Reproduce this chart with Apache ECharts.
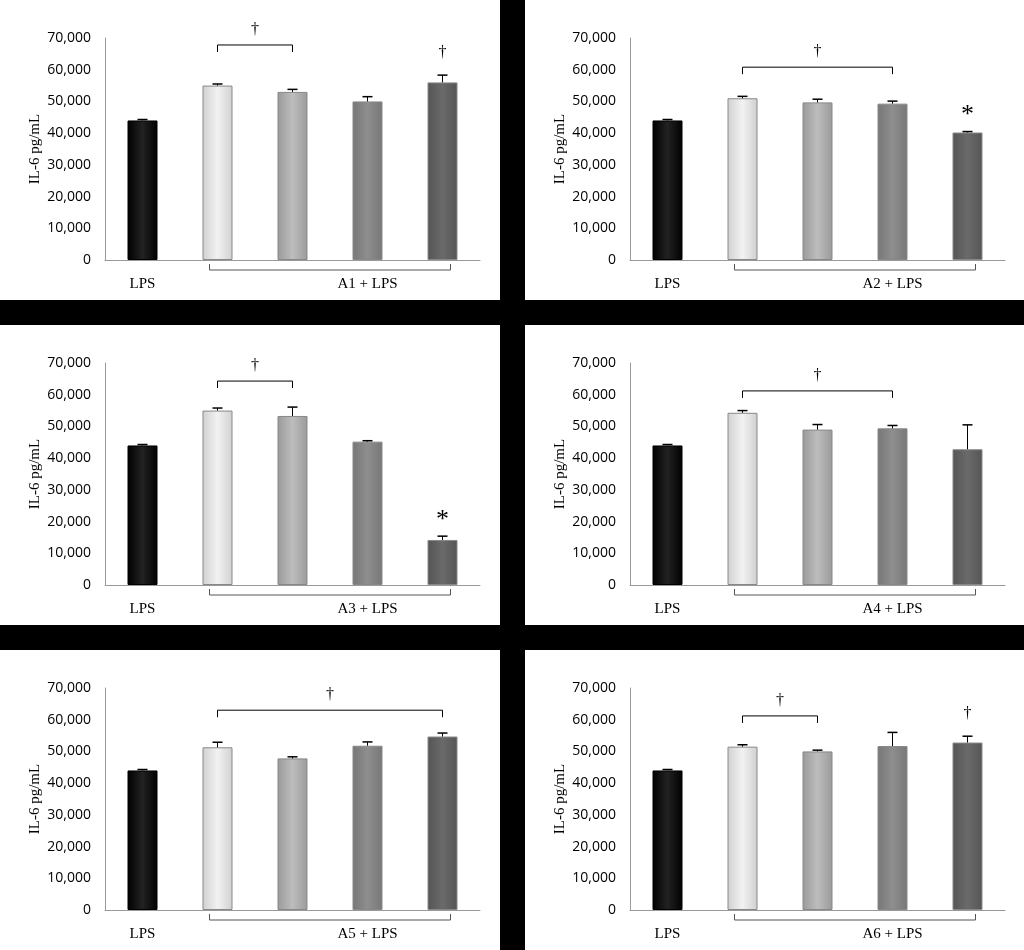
<!DOCTYPE html>
<html>
<head>
<meta charset="UTF-8">
<script src="https://cdn.jsdelivr.net/npm/echarts@6/dist/echarts.min.js"></script>
<style>html,body{margin:0;padding:0;background:#000}#main{width:1024px;height:950px}</style>
</head>
<body>
<div id="main"></div>
<script>
var categories = ['LPS', 'b', 'c', 'd', 'e'];
var groupLabels = ['A1 + LPS', 'A2 + LPS', 'A3 + LPS', 'A4 + LPS', 'A5 + LPS', 'A6 + LPS'];
var yTicks = [0, 10000, 20000, 30000, 40000, 50000, 60000, 70000];
// means per panel
var means1 = [44000, 55000, 53000, 50000, 56000];
var means2 = [44000, 51000, 49700, 49300, 40200];
var means3 = [44000, 55000, 53300, 45200, 14200];
var means4 = [44000, 54300, 49000, 49400, 42800];
var means5 = [44000, 51300, 47800, 51800, 54700];
var means6 = [44000, 51500, 50000, 51700, 52800];
// upper error values
var errs1 = [300, 500, 800, 1500, 2300];
var errs2 = [300, 600, 1000, 800, 300];
var errs3 = [300, 800, 2800, 300, 1200];
var errs4 = [300, 700, 1600, 900, 7700];
var errs5 = [300, 1600, 500, 1200, 1100];
var errs6 = [300, 600, 400, 4300, 2000];
// significance brackets [from, to, value]
var brackets = [[1, 2, 67800], [1, 3, 60800], [1, 2, 64300], [1, 3, 61200], [1, 4, 63000], [1, 2, 61200]];
// extra single markers [index, symbol]
var markers = [[[4, '†']], [[4, '*']], [[4, '*']], [], [], [[4, '†']]];

var allMeans = [means1, means2, means3, means4, means5, means6];
var allErrs = [errs1, errs2, errs3, errs4, errs5, errs6];

var barColors = [
  ['#000', '#222', '#000'],
  ['#d0d0d0', '#f2f2f2', '#d0d0d0'],
  ['#9a9a9a', '#bdbdbd', '#9a9a9a'],
  ['#777', '#8e8e8e', '#777'],
  ['#555', '#6a6a6a', '#555']
];
function grad(c) {
  return new echarts.graphic.LinearGradient(0, 0, 1, 0, [
    {offset: 0, color: c[0]}, {offset: 0.5, color: c[1]}, {offset: 1, color: c[2]}]);
}

var chart = echarts.init(document.getElementById('main'));
var grids = [], xAxes = [], yAxes = [], series = [], graphics = [];

for (var p = 0; p < 6; p++) {
  var col = p % 2, row = Math.floor(p / 2);
  var px = col * 525, py = row * 325;
  graphics.push({type: 'rect', shape: {x: px, y: py, width: col ? 499 : 500, height: 300},
    style: {fill: '#fff'}, z: -10});
  grids.push({left: px + 105, top: py + 38, width: 375, height: 222});
  xAxes.push({type: 'category', gridIndex: p, data: categories,
    axisLine: {lineStyle: {color: '#999'}}, axisTick: {show: false}, axisLabel: {show: false}});
  yAxes.push({type: 'value', gridIndex: p, min: yTicks[0], max: yTicks[yTicks.length - 1], interval: 10000,
    axisLine: {show: true, lineStyle: {color: '#999'}}, axisTick: {show: false}, splitLine: {show: false},
    axisLabel: {color: '#000', fontFamily: 'Open Sans', fontSize: 14, margin: 14},
    name: 'IL-6 pg/mL', nameLocation: 'middle', nameGap: 62, nameRotate: 90,
    nameTextStyle: {fontFamily: 'Liberation Serif', fontSize: 15, color: '#000'}});
  series.push({type: 'bar', xAxisIndex: p, yAxisIndex: p, barWidth: 30,
    data: allMeans[p].map(function (v, i) {
      return {value: v, itemStyle: {color: grad(barColors[i]), borderColor: i ? '#888' : '#000', borderWidth: 1}};
    })});
  series.push({type: 'custom', xAxisIndex: p, yAxisIndex: p, z: 5,
    data: allMeans[p].map(function (v, i) { return [i, v, allErrs[p][i]]; }),
    renderItem: function (params, api) {
      var a = api.coord([api.value(0), api.value(1)]);
      var b = api.coord([api.value(0), api.value(1) + api.value(2)]);
      return {type: 'group', children: [
        {type: 'line', shape: {x1: a[0], y1: a[1], x2: b[0], y2: b[1]}, style: {stroke: '#000', lineWidth: 1}},
        {type: 'line', shape: {x1: b[0] - 5, y1: b[1], x2: b[0] + 5, y2: b[1]}, style: {stroke: '#000', lineWidth: 1.5}}
      ]};
    }});
  (function (p) {
    series.push({type: 'custom', xAxisIndex: p, yAxisIndex: p, z: 6, data: [[0, 0]],
      renderItem: function (params, api) {
        var br = brackets[p];
        var l = api.coord([br[0], br[2]]), r = api.coord([br[1], br[2]]);
        var ch = [
          {type: 'polyline', shape: {points: [[l[0], l[1] + 7], [l[0], l[1]], [r[0], r[1]], [r[0], r[1] + 7]]},
            style: {stroke: '#000', fill: null, lineWidth: 1}},
          {type: 'text', x: (l[0] + r[0]) / 2, y: l[1] - 15,
            style: {text: '†', fontSize: 16, fontFamily: 'Liberation Serif', fill: '#000', align: 'center', verticalAlign: 'middle'}}
        ];
        markers[p].forEach(function (m) {
          var top = api.coord([m[0], allMeans[p][m[0]] + allErrs[p][m[0]]]);
          ch.push({type: 'text', x: top[0], y: top[1] - (m[1] === '*' ? 16 : 22),
            style: {text: m[1], fontSize: m[1] === '*' ? 26 : 16, fontFamily: 'Liberation Serif', fill: '#000', align: 'center', verticalAlign: 'middle'}});
        });
        var o = api.coord([0, 0]), g1 = api.coord([1, 0]), g4 = api.coord([4, 0]);
        var bl = g1[0] - 8, brx = g4[0] + 8;
        ch.push({type: 'polyline', shape: {points: [[bl, o[1] + 4], [bl, o[1] + 10], [brx, o[1] + 10], [brx, o[1] + 4]]},
          style: {stroke: '#555', fill: null, lineWidth: 1}});
        ch.push({type: 'text', x: o[0], y: o[1] + 24,
          style: {text: 'LPS', fontSize: 15, fontFamily: 'Liberation Serif', fill: '#000', align: 'center', verticalAlign: 'middle'}});
        var mid = api.coord([2.5, 0]);
        ch.push({type: 'text', x: mid[0], y: o[1] + 24,
          style: {text: groupLabels[p], fontSize: 15, fontFamily: 'Liberation Serif', fill: '#000', align: 'center', verticalAlign: 'middle'}});
        return {type: 'group', children: ch};
      }});
  })(p);
}

chart.setOption({
  animation: false,
  backgroundColor: '#000',
  graphic: graphics,
  grid: grids,
  xAxis: xAxes,
  yAxis: yAxes,
  series: series
});
</script>
</body>
</html>
